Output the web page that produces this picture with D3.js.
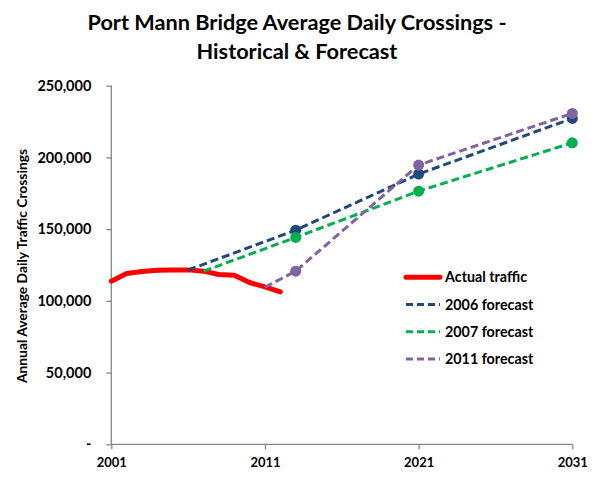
<!DOCTYPE html>
<html><head><meta charset="utf-8">
<script src="https://cdn.jsdelivr.net/npm/d3@7"></script>
<style>body{margin:0;background:#fff;} svg{display:block;} text{font-family:Lato,"Open Sans",sans-serif;font-weight:bold;}</style>
</head><body>
<svg id="c" width="598" height="483"></svg>
<script>
const actualYears = [2001,2002,2003,2004,2005,2006,2007,2008,2009,2010,2011,2012];
const actualValues = [113700,119100,120500,121400,121600,121600,120700,118400,117900,112800,109800,106300];
const f2006Years = [2006,2013,2021,2031];
const f2006Values = [121500,149300,188400,227200];
const f2007Years = [2007,2013,2021,2031];
const f2007Values = [120700,144200,176500,210200];
const f2011Years = [2011,2013,2021,2031];
const f2011Values = [109500,120700,194700,230700];
const xTicks = [2001,2011,2021,2031];
const yTicks = [0,50000,100000,150000,200000,250000];
const seriesNames = ["Actual traffic","2006 forecast","2007 forecast","2011 forecast"];
const colors = ["#FF0000","#1F497D","#00B050","#8064A2"];

const svg = d3.select("#c");
const x = d3.scaleLinear().domain([2001,2031]).range([111.3,572.3]);
const y = d3.scaleLinear().domain([0,250000]).range([444.3,85.7]);

// title
svg.append("text").attr("x",297).attr("y",30).attr("text-anchor","middle").attr("font-size",21.7).text("Port Mann Bridge Average Daily Crossings -");
svg.append("text").attr("x",297).attr("y",59).attr("text-anchor","middle").attr("font-size",21.7).text("Historical & Forecast");

// axes
const gx = svg.append("g").attr("transform","translate(0,444.3)")
  .call(d3.axisBottom(x).tickValues(xTicks).tickFormat(d3.format("d")).tickSize(5).tickPadding(8));
const gy = svg.append("g").attr("transform","translate(111.3,0)")
  .call(d3.axisLeft(y).tickValues(yTicks).tickFormat(d => d===0 ? "-" : d3.format(",")(d)).tickSize(5).tickPadding(15));
[gx,gy].forEach(g=>{
  g.select(".domain").attr("stroke","#868686").attr("stroke-width",1.3);
  g.selectAll(".tick line").attr("stroke","#868686").attr("stroke-width",1.3);
  g.selectAll("text").attr("fill","#000").attr("font-family","Lato,'Open Sans',sans-serif").attr("font-weight","bold");
});
gx.selectAll("text").attr("font-size",13);
gy.selectAll("text").attr("font-size",14.5);
gy.select(".domain").attr("d","M0,85.7V444.3");
gx.select(".domain").attr("d","M111.3,0H572.3");

// y title
svg.append("text").attr("transform","translate(27,266) rotate(-90)").attr("text-anchor","middle").attr("font-size",13.8).text("Annual Average Daily Traffic Crossings");

const line = d3.line().x(d=>x(d[0])).y(d=>y(d[1])).curve(d3.curveLinear);

// actual
svg.append("path").datum(d3.zip(actualYears,actualValues)).attr("d",line)
  .attr("fill","none").attr("stroke",colors[0]).attr("stroke-width",5).attr("stroke-linejoin","round").attr("stroke-linecap","round");

const forecasts = [[f2006Years,f2006Values],[f2007Years,f2007Values],[f2011Years,f2011Values]];
forecasts.forEach((f,i)=>{
  const pts = d3.zip(f[0],f[1]);
  svg.append("path").datum(pts).attr("d",line)
    .attr("fill","none").attr("stroke",colors[i+1]).attr("stroke-width",3).attr("stroke-dasharray","8,4");
  svg.selectAll(null).data(pts.slice(1)).enter().append("circle")
    .attr("cx",d=>x(d[0])).attr("cy",d=>y(d[1])).attr("r",5.5).attr("fill",colors[i+1]);
});

// legend
const lg = svg.append("g");
seriesNames.forEach((n,i)=>{
  const yy = 277.3 + i*27.2;
  lg.append("line").attr("x1",406).attr("x2",440).attr("y1",yy).attr("y2",yy)
    .attr("stroke",colors[i]).attr("stroke-width",i===0?5:3).attr("stroke-dasharray",i===0?null:"7,4")
    .attr("stroke-linecap",i===0?"round":"butt");
  lg.append("text").attr("x",445).attr("y",yy+5).attr("font-size",14.3).text(n);
});
</script>
</body></html>
